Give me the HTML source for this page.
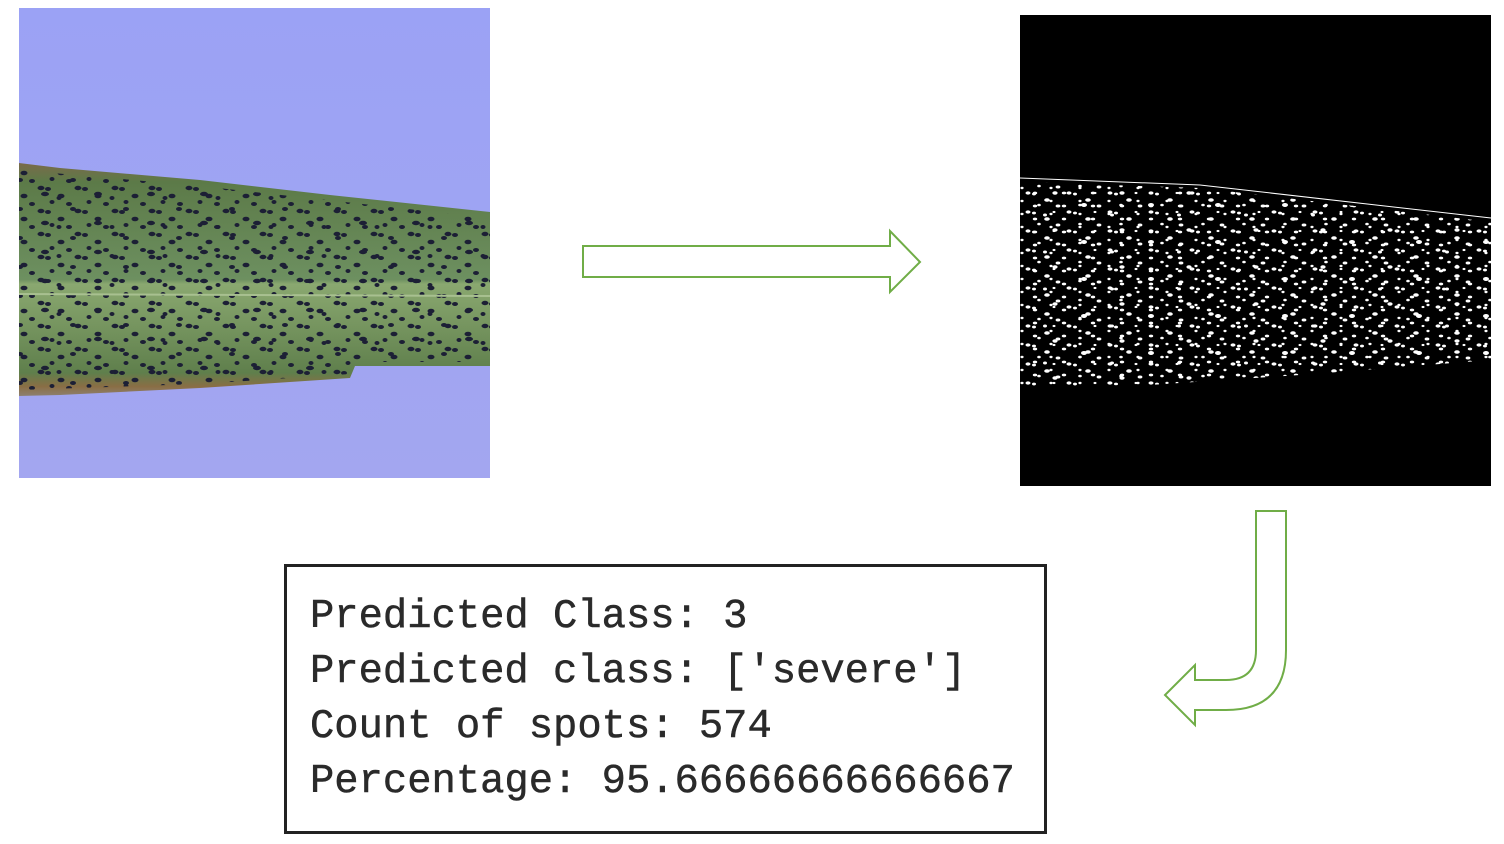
<!DOCTYPE html>
<html><head><meta charset="utf-8">
<style>
html,body{margin:0;padding:0;background:#fff;}
body{width:1504px;height:844px;overflow:hidden;position:relative;}
svg{position:absolute;left:0;top:0;}
.t{position:absolute;left:310px;font-family:"Liberation Mono","DejaVu Sans Mono",monospace;font-size:40.5px;color:#2a2a2a;-webkit-text-stroke:0.5px #2a2a2a;white-space:pre;line-height:55px;top:590px;}
</style></head><body>
<svg width="1504" height="844" xmlns="http://www.w3.org/2000/svg">
<defs>
<linearGradient id="bg" x1="0" y1="0" x2="0" y2="1"><stop offset="0" stop-color="#9ba2f5"/><stop offset="1" stop-color="#a3a6f0"/></linearGradient>
<linearGradient id="lf" x1="0" y1="0" x2="0" y2="1">
<stop offset="0" stop-color="#7a6a4a"/><stop offset="0.08" stop-color="#5c7a48"/><stop offset="0.5" stop-color="#6d9060"/><stop offset="0.52" stop-color="#8aa870"/><stop offset="0.9" stop-color="#5f7f4c"/><stop offset="0.96" stop-color="#8a6e45"/><stop offset="1" stop-color="#8d8070"/></linearGradient>
<pattern id="dk" width="37" height="23" patternUnits="userSpaceOnUse">
<ellipse cx="4" cy="4" rx="3.5" ry="2.2" fill="#1c1f35"/><ellipse cx="11" cy="5" rx="3" ry="2" fill="#1c1f35"/>
<ellipse cx="24" cy="12" rx="3.5" ry="2.3" fill="#1c1f35"/><ellipse cx="15" cy="18" rx="2.5" ry="2" fill="#1c1f35"/>
<ellipse cx="32" cy="20" rx="3" ry="2" fill="#1c1f35"/></pattern>
<pattern id="dk2" width="53" height="29" patternUnits="userSpaceOnUse">
<ellipse cx="20" cy="6" rx="3" ry="2" fill="#1c1f35"/><ellipse cx="45" cy="20" rx="4" ry="2.2" fill="#1c1f35"/><ellipse cx="6" cy="24" rx="2.5" ry="2" fill="#1c1f35"/></pattern>
<pattern id="wt" width="41" height="19" patternUnits="userSpaceOnUse">
<ellipse cx="3" cy="3" rx="2.5" ry="1.6" fill="#fff"/><ellipse cx="9" cy="4" rx="2" ry="1.4" fill="#fff"/>
<ellipse cx="22" cy="10" rx="2.8" ry="1.8" fill="#fff"/><ellipse cx="14" cy="15" rx="1.8" ry="1.3" fill="#fff"/>
<ellipse cx="33" cy="16" rx="2.4" ry="1.5" fill="#fff"/><ellipse cx="29" cy="3" rx="1.5" ry="1.1" fill="#fff"/></pattern>
<pattern id="wt2" width="29" height="13" patternUnits="userSpaceOnUse">
<ellipse cx="7" cy="6" rx="1.6" ry="1.2" fill="#fff"/><ellipse cx="20" cy="11" rx="2.2" ry="1.4" fill="#fff"/></pattern>
<pattern id="wt3" width="67" height="37" patternUnits="userSpaceOnUse">
<ellipse cx="12" cy="20" rx="3" ry="2" fill="#fff"/><ellipse cx="50" cy="8" rx="2.6" ry="1.7" fill="#fff"/><ellipse cx="40" cy="30" rx="2" ry="1.5" fill="#fff"/></pattern>
</defs>
<rect x="19" y="8" width="471" height="470" fill="url(#bg)"/>
<path d="M19,163 L60,168 L200,180 L330,195 L490,212 L490,366 L355,366 L350,378 L200,388 L60,395 L19,396 Z" fill="url(#lf)"/>
<path d="M19,170 L200,186 L490,218 L490,362 L356,362 L350,374 L200,384 L19,390 Z" fill="url(#dk)"/>
<path d="M19,170 L200,186 L490,218 L490,362 L356,362 L350,374 L200,384 L19,390 Z" fill="url(#dk2)"/>
<line x1="19" y1="294" x2="490" y2="296" stroke="#a8c090" stroke-width="2"/>
<rect x="1020" y="15" width="471" height="471" fill="#000"/>
<path d="M1020,182 L1200,188 L1491,222 L1491,360 L1300,375 L1150,385 L1020,386 Z" fill="url(#wt)"/>
<path d="M1020,182 L1200,188 L1491,222 L1491,360 L1300,375 L1150,385 L1020,386 Z" fill="url(#wt2)"/>
<path d="M1020,182 L1200,188 L1491,222 L1491,360 L1300,375 L1150,385 L1020,386 Z" fill="url(#wt3)"/>
<path d="M1020,178 L1200,185 L1491,218" stroke="#fff" stroke-width="1" fill="none"/>
<path d="M583,246 L890,246 L890,231 L920,262 L890,292 L890,277 L583,277 Z" fill="none" stroke="#70ad47" stroke-width="2"/>
<path d="M1256,511 L1286,511 L1286,650 Q1286,710 1226,710 L1195,710 L1195,725 L1165,695 L1195,665 L1195,680 L1226,680 Q1256,680 1256,650 Z" fill="none" stroke="#70ad47" stroke-width="2"/>
<rect x="285.5" y="565.5" width="760" height="267" fill="#fff" stroke="#222" stroke-width="3"/>
</svg>
<div class="t">Predicted Class: 3
Predicted class: ['severe']
Count of spots: 574
Percentage: 95.66666666666667</div>
</body></html>
